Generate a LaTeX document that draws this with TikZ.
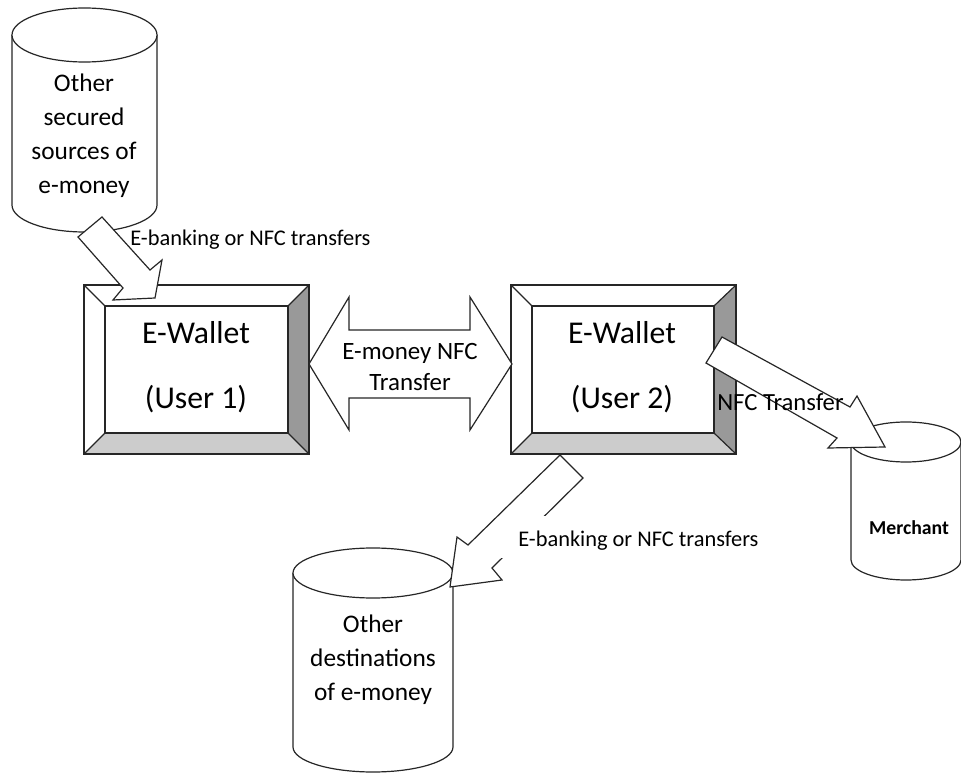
\documentclass[tikz,border=0pt]{standalone}
\usepackage{fontspec}
\setmainfont{Carlito}
\newcommand\mycyl[5]{%
  \fill[white] (#1-#4,-#2) -- (#1-#4,-#3) arc[start angle=180,end angle=360,x radius=#4,y radius=#5] -- (#1+#4,-#2) -- cycle;
  \draw[outl] (#1-#4,-#2) -- (#1-#4,-#3) arc[start angle=180,end angle=360,x radius=#4,y radius=#5] -- (#1+#4,-#2);
  \draw[outl,fill=white] (#1,-#2) ellipse[x radius=#4,y radius=#5];}
\newcommand\bevbox[8]{%
  \fill[white] (#1,-#2) rectangle (#3,-#4);
  \fill[black!40] (#3,-#2) -- (#3,-#4) -- (#7,-#8) -- (#7,-#6) -- cycle;
  \fill[black!20] (#1,-#4) -- (#3,-#4) -- (#7,-#8) -- (#5,-#8) -- cycle;
  \draw[outl] (#1,-#2) rectangle (#3,-#4);
  \draw[outl] (#5,-#6) rectangle (#7,-#8);
  \draw[outl] (#1,-#2) -- (#5,-#6) (#3,-#2) -- (#7,-#6) (#1,-#4) -- (#5,-#8) (#3,-#4) -- (#7,-#8);}
\begin{document}
\begin{tikzpicture}[x=0.75pt,y=0.75pt,line join=miter,
  outl/.style={draw=black!85,line width=0.9pt},
  barrow/.style={draw=black!85,line width=0.9pt,fill=white},
  cyltext/.style={align=center,font=\fontsize{19}{25.5}\selectfont,inner sep=0pt},
  wtext/.style={align=center,font=\fontsize{23.8}{48.75}\selectfont,inner sep=0pt},
  lbl/.style={font=\fontsize{16.8}{19}\selectfont,inner sep=0pt}]
\useasboundingbox (0,0) rectangle (961,-773);
% cylinders
\mycyl{84.5}{35}{205}{72.5}{27}
\node[cyltext] (src) at (84,-135.5) {Other\\secured\\sources of\\e-money};
\mycyl{373}{573}{747}{80}{25}
\node[cyltext] (dst) at (373,-660) {Other\\destinations\\of e-money};
\mycyl{906}{442}{560}{55}{20}
\node[font=\fontsize{14.8}{17}\selectfont\bfseries,inner sep=0pt] (mer) at (909,-528) {Merchant};
% wallets
\bevbox{84}{285}{309}{454}{105}{306}{288}{433}
\node[wtext] (w1) at (196,-367.5) {E-Wallet\\(User 1)};
\bevbox{511}{285}{736}{454}{532}{306}{714}{433}
\node[wtext] (w2) at (622,-367.5) {E-Wallet\\(User 2)};
% block arrows
\draw[barrow] (78,-237) -- (102,-217) -- (150,-270) -- (162,-260) -- (155,-298) -- (113,-300) -- (123,-288) -- cycle;
\draw[barrow] (309,-364) -- (349,-297) -- (349,-330) -- (470,-330) -- (470,-297) -- (512,-364) -- (470,-430) -- (470,-398) -- (349,-398) -- (349,-430) -- cycle;
\draw[barrow] (706,-363) -- (722,-337) -- (850,-407) -- (857,-396) -- (885,-447) -- (828,-448) -- (837,-438) -- cycle;
\draw[barrow] (560,-455) -- (583,-478) -- (492,-568) -- (502,-580) -- (450,-587) -- (457,-537) -- (468,-545) -- cycle;
% labels
\node[lbl,anchor=west] (l1) at (130,-240) {E-banking or NFC transfers};
\node[align=center,font=\fontsize{18.7}{23}\selectfont,inner sep=0pt] (l2) at (410,-367) {E-money NFC\\Transfer};
\node[font=\fontsize{18.5}{20}\selectfont,inner sep=0pt,anchor=west] (l3) at (717,-402) {NFC Transfer};
\fill[white] (501,-516) rectangle (770,-558);
\node[lbl,anchor=west] (l4) at (518,-541) {E-banking or NFC transfers};
\end{tikzpicture}
\end{document}
